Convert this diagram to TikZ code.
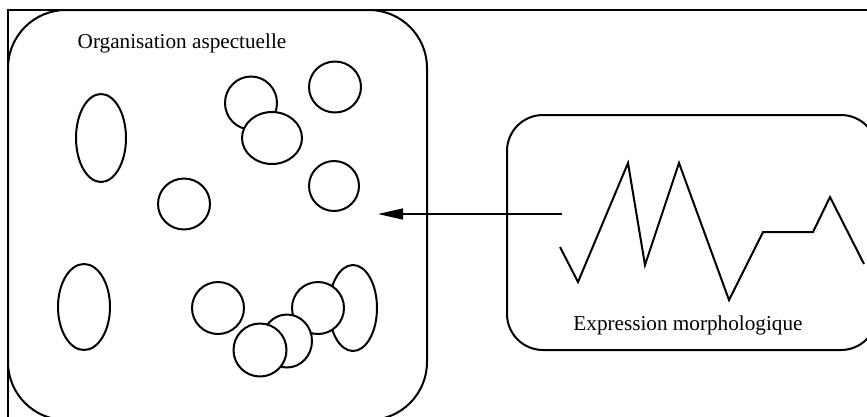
\documentclass[tikz,border=0pt]{standalone}
\usepackage{fontspec}
\setmainfont{Liberation Serif}
\usetikzlibrary{shapes.geometric,arrows.meta}
\begin{document}
\begin{tikzpicture}[x=1pt,y=-1pt,
  blob/.style={draw,ellipse,line width=2pt,fill=white,inner sep=0pt,minimum width=#1},
  boxstyle/.style={draw,line width=2pt,inner sep=0pt},
  lbl/.style={font=\fontsize{21.2}{25}\selectfont,inner sep=0pt}]
\useasboundingbox (0,0) rectangle (867,416);
\begin{scope}
\clip (0,0) rectangle (867,416);
% outer frame
\draw[line width=2pt] (8,440) -- (8,10) -- (890,10);
% boxes
\node[boxstyle,rounded corners=58pt,minimum width=419pt,minimum height=410pt] (org) at (217.5,215) {};
\node[boxstyle,rounded corners=36pt,minimum width=370pt,minimum height=235pt] (expr) at (692,232.5) {};
\end{scope}
\node[lbl] (orgl) at (182,43) {Organisation aspectuelle};
\node[lbl] (exprl) at (688,325) {Expression morphologique};
% shapes
\node[blob=50pt,minimum height=88pt] (e1) at (101,138) {};
\node[blob=52pt,minimum height=86pt] (e2) at (84,307) {};
\node[blob=52pt,minimum height=53pt] (cA) at (251,103) {};
\node[blob=60pt,minimum height=52pt] (cB) at (272,138) {};
\node[blob=52pt,minimum height=51pt] (cC) at (335,87) {};
\node[blob=52pt,minimum height=51pt] (cE) at (184,204) {};
\node[blob=50pt,minimum height=50pt] (cD) at (334,186) {};
\node[blob=52pt,minimum height=52pt] (cF) at (218,308) {};
\node[blob=48pt,minimum height=86pt] (eJ) at (353,308) {};
\node[blob=52pt,minimum height=52pt] (cI) at (318,308) {};
\node[blob=50pt,minimum height=53pt] (cG) at (287,341) {};
\node[blob=53pt,minimum height=53pt] (cH) at (260,350) {};
% arrow
\coordinate (as) at (562,214);
\coordinate (ae) at (378,214);
\draw[line width=1.5pt,-{Triangle[length=25pt,width=11pt]}] (as) -- (ae);
% zigzag
\draw[line width=2pt,line join=miter] (560,247) -- (578,282) -- (628,163) -- (645,265) -- (679,163) -- (729,300) -- (763,232) -- (813,232) -- (830,197) -- (864,264);
\end{tikzpicture}
\end{document}
